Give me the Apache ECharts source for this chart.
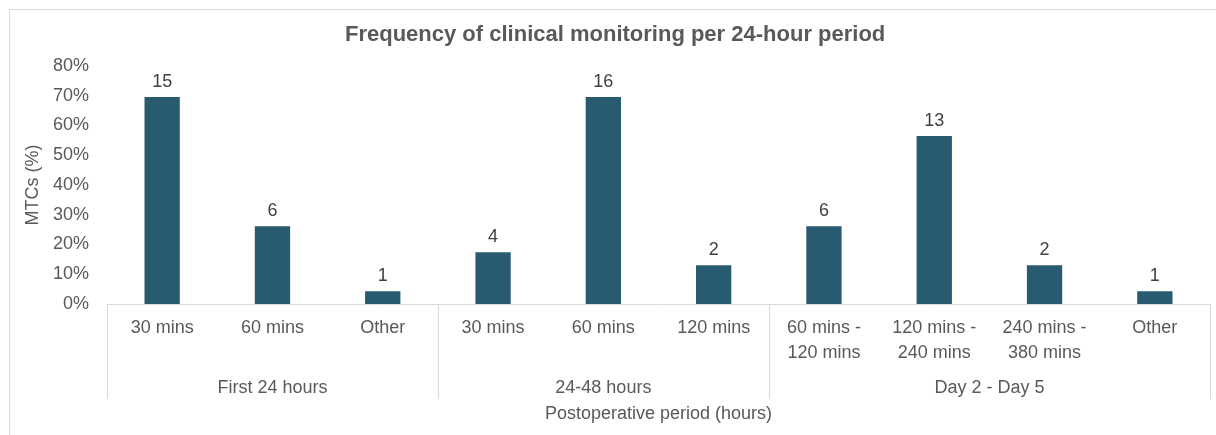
<!DOCTYPE html>
<html>
<head>
<meta charset="utf-8">
<script src="https://cdn.jsdelivr.net/npm/echarts@6/dist/echarts.min.js"></script>
<style>
html,body{margin:0;padding:0;background:#fff;}
#chart{width:1216px;height:435px;}
</style>
</head>
<body>
<div id="chart"></div>
<script>
var titleText = 'Frequency of clinical monitoring per 24-hour period';
var categories = ['30 mins', '60 mins', 'Other', '30 mins', '60 mins', '120 mins', '60 mins -\n120 mins', '120 mins -\n240 mins', '240 mins -\n380 mins', 'Other'];
var groups = ['First 24 hours', '24-48 hours', 'Day 2 - Day 5'];
var groupSizes = [3, 3, 4];
var percentValues = [69.6, 26.1, 4.3, 17.4, 69.6, 13.0, 26.1, 56.5, 13.0, 4.3];
var countLabels = [15, 6, 1, 4, 16, 2, 6, 13, 2, 1];
var yTicks = [0, 10, 20, 30, 40, 50, 60, 70, 80];
var yAxisName = 'MTCs (%)';
var xAxisName = 'Postoperative period (hours)';

// Group axis built at half-category resolution (boundaryGap false): point k sits at k/2 categories.
var slotIds = [];
var slotText = {};
var boundarySlots = {0: true};
(function () {
  var n = categories.length * 2 + 1;
  for (var i = 0; i < n; i++) slotIds.push('s' + i);
  var start = 0;
  for (var g = 0; g < groups.length; g++) {
    var end = start + groupSizes[g];
    slotText[start + end] = groups[g];
    boundarySlots[end * 2] = true;
    start = end;
  }
})();

var FONT = '"Liberation Sans", Arial, sans-serif';
var chart = echarts.init(document.getElementById('chart'), null, {renderer: 'canvas'});
chart.setOption({
  animation: false,
  backgroundColor: '#ffffff',
  textStyle: {fontFamily: FONT},
  title: {
    text: titleText,
    left: 340,
    top: 19,
    textStyle: {fontFamily: FONT, fontSize: 22, fontWeight: 'bold', color: '#595959'}
  },
  graphic: [{
    type: 'rect',
    shape: {x: 9.5, y: 9.5, width: 1400, height: 600},
    style: {fill: 'none', stroke: '#d9d9d9', lineWidth: 1},
    silent: true
  }],
  grid: {left: 107, right: 6, top: 66, bottom: 131, containLabel: false},
  xAxis: [{
    type: 'category',
    data: categories,
    position: 'bottom',
    axisLine: {show: true, lineStyle: {color: '#d9d9d9', width: 1}},
    axisTick: {show: false},
    axisLabel: {interval: 0, margin: 12, fontSize: 18, lineHeight: 25, color: '#595959', fontFamily: FONT}
  }, {
    type: 'category',
    data: slotIds,
    boundaryGap: false,
    position: 'bottom',
    axisLine: {show: false},
    axisTick: {
      show: true,
      length: 95,
      interval: function (idx) { return !!boundarySlots[idx]; },
      lineStyle: {color: '#d9d9d9', width: 1}
    },
    axisLabel: {
      interval: 0,
      formatter: function (val, idx) { return slotText[idx] || ''; },
      margin: 72, fontSize: 18, lineHeight: 24, color: '#595959', fontFamily: FONT,
      hideOverlap: false
    },
    name: xAxisName,
    nameLocation: 'middle',
    nameGap: 96,
    nameTextStyle: {fontSize: 18, color: '#595959', fontFamily: FONT}
  }],
  yAxis: {
    type: 'value',
    min: yTicks[0],
    max: yTicks[yTicks.length - 1],
    interval: yTicks[1] - yTicks[0],
    axisLine: {show: false},
    axisTick: {show: false},
    splitLine: {show: false},
    axisLabel: {formatter: '{value}%', fontSize: 18, color: '#595959', margin: 18, fontFamily: FONT},
    name: yAxisName,
    nameLocation: 'middle',
    nameGap: 56,
    nameTextStyle: {fontSize: 18, color: '#595959', fontFamily: FONT}
  },
  series: [{
    type: 'bar',
    xAxisIndex: 0,
    data: percentValues,
    barWidth: '32%',
    itemStyle: {color: '#285a70'},
    label: {
      show: true,
      position: 'top',
      distance: 6,
      fontSize: 18,
      color: '#404040',
      fontFamily: FONT,
      formatter: function (p) { return String(countLabels[p.dataIndex]); }
    }
  }]
});
</script>
</body>
</html>
